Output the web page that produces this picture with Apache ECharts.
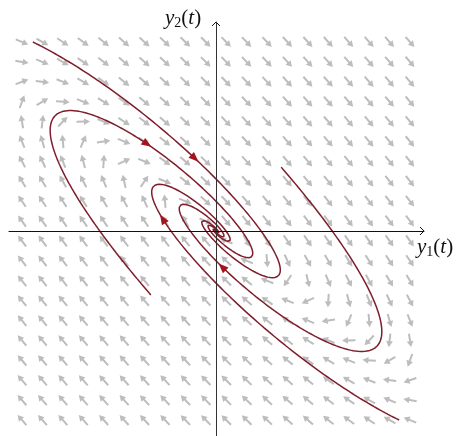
<!DOCTYPE html>
<html>
<head>
<meta charset="utf-8">
<script src="https://cdn.jsdelivr.net/npm/echarts@6/dist/echarts.min.js"></script>
<style>
  html, body { margin: 0; padding: 0; background: #fff; }
  #chart { width: 457px; height: 436px; }
</style>
</head>
<body>
<div id="chart"></div>
<script>
// linear system y' = A y
const matrixA = [[1.427, 2.291], [-2.025, -2.387]];

// trajectory start points (y1, y2) and how long each one runs
const startY1 = [-4.72, 4.72, -1.68, 1.68];
const startY2 = [5.00, -5.00, -1.69, 1.69];
const runTime = [16, 16, 16, 16];

// times at which an arrowhead sits on each trajectory
const arrowTimes = [[0.93], [1.72], [2.15], [2.82]];

// direction field grid
const fieldSamples = 20;
const fieldHalf = 5;

// axis window
const xMin = -5.335, xMax = 5.361;
const yMin = -5.423, yMax = 5.529;

const fieldColor = '#bdbdbd';
const curveColor = '#7e1e2c';
const headColor = '#a3141c';

function deriv(p) {
  return [matrixA[0][0] * p[0] + matrixA[0][1] * p[1],
          matrixA[1][0] * p[0] + matrixA[1][1] * p[1]];
}

const h = 0.005;
function solve(p0, T) {
  const pts = [p0.slice()];
  let p = p0.slice();
  const n = Math.round(T / h);
  for (let i = 0; i < n; i++) {
    const k1 = deriv(p);
    const k2 = deriv([p[0] + h / 2 * k1[0], p[1] + h / 2 * k1[1]]);
    const k3 = deriv([p[0] + h / 2 * k2[0], p[1] + h / 2 * k2[1]]);
    const k4 = deriv([p[0] + h * k3[0], p[1] + h * k3[1]]);
    p = [p[0] + h / 6 * (k1[0] + 2 * k2[0] + 2 * k3[0] + k4[0]),
         p[1] + h / 6 * (k1[1] + 2 * k2[1] + 2 * k3[1] + k4[1])];
    pts.push(p);
  }
  return pts;
}

const curves = startY1.map((v, i) => solve([v, startY2[i]], runTime[i]));

const fieldPts = [];
for (let i = 0; i < fieldSamples; i++) {
  for (let j = 0; j < fieldSamples; j++) {
    fieldPts.push([-fieldHalf + 2 * fieldHalf * i / (fieldSamples - 1),
                   -fieldHalf + 2 * fieldHalf * j / (fieldSamples - 1)]);
  }
}

const headPts = [];
arrowTimes.forEach((ts, k) => {
  ts.forEach(t => {
    const p = curves[k][Math.round(t / h)];
    headPts.push([p[0], p[1], k]);
  });
});

function unitDir(api, p) {
  const d = deriv(p);
  const a = api.coord(p);
  const b = api.coord([p[0] + d[0] * 0.001, p[1] + d[1] * 0.001]);
  let vx = b[0] - a[0], vy = b[1] - a[1];
  const n = Math.hypot(vx, vy) || 1;
  return [a, vx / n, vy / n];
}

function renderField(params, api) {
  const [c, vx, vy] = unitDir(api, [api.value(0), api.value(1)]);
  const L = 13.5, hl = 6, hw = 3.4;
  const tail = [c[0] - vx * L / 2, c[1] - vy * L / 2];
  const tip = [c[0] + vx * L / 2, c[1] + vy * L / 2];
  const base = [tip[0] - vx * hl, tip[1] - vy * hl];
  return {
    type: 'group',
    children: [
      { type: 'line', shape: { x1: tail[0], y1: tail[1], x2: base[0] + vx, y2: base[1] + vy },
        style: { stroke: fieldColor, lineWidth: 2 } },
      { type: 'polygon',
        shape: { points: [tip, [base[0] - vy * hw, base[1] + vx * hw], [base[0] + vy * hw, base[1] - vx * hw]] },
        style: { fill: fieldColor } }
    ]
  };
}

function renderHead(params, api) {
  const [c, vx, vy] = unitDir(api, [api.value(0), api.value(1)]);
  const hl = 10, hw = 4;
  const tip = [c[0] + vx * hl / 2, c[1] + vy * hl / 2];
  const base = [c[0] - vx * hl / 2, c[1] - vy * hl / 2];
  return {
    type: 'polygon',
    shape: { points: [tip, [base[0] - vy * hw, base[1] + vx * hw], [base[0] + vy * hw, base[1] - vx * hw]] },
    style: { fill: headColor }
  };
}

function renderAxisHeads(params, api) {
  const px = api.coord([xMax, 0]);
  const py = api.coord([0, yMax]);
  const s = 4;
  const st = { stroke: '#111', lineWidth: 1, fill: null };
  return {
    type: 'group',
    children: [
      { type: 'polyline', shape: { points: [[px[0] - s, px[1] - s], px, [px[0] - s, px[1] + s]] }, style: st },
      { type: 'polyline', shape: { points: [[py[0] - s, py[1] + s], py, [py[0] + s, py[1] + s]] }, style: st }
    ]
  };
}

const chart = echarts.init(document.getElementById('chart'), null, { renderer: 'canvas' });

const series = [
  {
    type: 'custom',
    renderItem: renderField,
    data: fieldPts,
    silent: true,
    z: 1
  }
];
curves.forEach(pts => {
  series.push({
    type: 'line',
    data: pts,
    showSymbol: false,
    symbol: 'none',
    clip: true,
    lineStyle: { color: curveColor, width: 1.5 },
    silent: true,
    z: 3
  });
});
series.push({
  type: 'custom',
  renderItem: renderHead,
  data: headPts,
  silent: true,
  z: 4
});
series.push({
  type: 'custom',
  renderItem: renderAxisHeads,
  data: [[0, 0]],
  silent: true,
  clip: false,
  z: 5
});

chart.setOption({
  animation: false,
  backgroundColor: '#fff',
  grid: { left: 9, top: 22, width: 415, height: 414, containLabel: false },
  xAxis: {
    type: 'value',
    min: xMin, max: xMax,
    axisLine: { show: true, onZero: true, lineStyle: { color: '#111', width: 1 } },
    axisTick: { show: false },
    axisLabel: { show: false },
    splitLine: { show: false },
    z: 5
  },
  yAxis: {
    type: 'value',
    min: yMin, max: yMax,
    axisLine: { show: true, onZero: true, lineStyle: { color: '#333', width: 1 } },
    axisTick: { show: false },
    axisLabel: { show: false },
    splitLine: { show: false },
    z: 5
  },
  graphic: [
    {
      type: 'text', left: 417, top: 237, z: 10,
      style: {
        text: '{v|y}{s|1}{p|(}{v|t}{p|)}',
        rich: {
          v: { fontFamily: 'Liberation Serif', fontStyle: 'italic', fontSize: 21, fill: '#111' },
          p: { fontFamily: 'Liberation Serif', fontSize: 21, fill: '#111' },
          s: { fontFamily: 'Liberation Serif', fontSize: 14, fill: '#111', padding: [9, 0, 0, 0] }
        }
      }
    },
    {
      type: 'text', left: 165, top: 8, z: 10,
      style: {
        text: '{v|y}{s|2}{p|(}{v|t}{p|)}',
        rich: {
          v: { fontFamily: 'Liberation Serif', fontStyle: 'italic', fontSize: 21, fill: '#111' },
          p: { fontFamily: 'Liberation Serif', fontSize: 21, fill: '#111' },
          s: { fontFamily: 'Liberation Serif', fontSize: 14, fill: '#111', padding: [9, 0, 0, 0] }
        }
      }
    }
  ],
  series: series
});
</script>
</body>
</html>
